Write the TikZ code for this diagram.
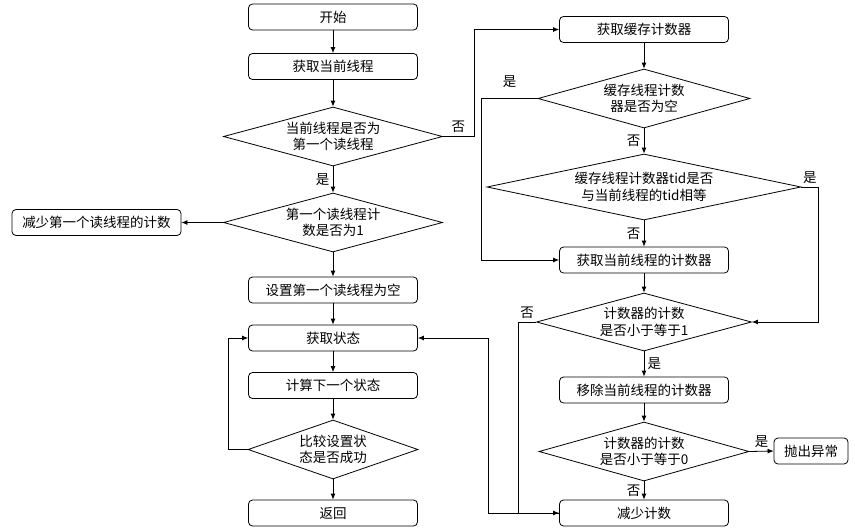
\documentclass[tikz,border=0pt]{standalone}
\usepackage{fontspec}
\setmainfont{Noto Sans CJK SC}
\usetikzlibrary{shapes.geometric}
\usetikzlibrary{arrows.meta}
\tikzset{every node/.style={font=\fontsize{13.5}{16.5}\selectfont},
         box/.style={draw,rectangle,rounded corners=4pt,minimum width=169pt,minimum height=26pt,inner sep=2pt},
         decision/.style n args={3}{draw,diamond,minimum width=#1pt,minimum height=#2pt,aspect=#3,inner sep=0pt,align=center},
         flow/.style={-{Latex[length=6pt,width=5pt]}},
         }

\begin{document}
\begin{tikzpicture}[x=1pt,y=-1pt,line width=0.8pt]
		\useasboundingbox (0,0) rectangle (855,531);
		\node[box] (start) at (333,17) {开始};
		\node[box] (getthread) at (333,66.5) {获取当前线程};
		\node[decision={219}{59}{3.71}] (isfirst) at (333,136.5) {当前线程是否为\\第一个读线程};
		\node[decision={219}{59}{3.71}] (firstcnt) at (333,222.5) {第一个读线程计\\数是否为1};
		\node[box] (decfirst) at (96.5,222.5) {减少第一个读线程的计数};
		\node[box] (setnull) at (333,290) {设置第一个读线程为空};
		\node[box] (getstate) at (333,338) {获取状态};
		\node[box] (nextstate) at (333,385.5) {计算下一个状态};
		\node[decision={170}{59}{2.88}] (cas) at (333,449.5) {比较设置状\\态是否成功};
		\node[box] (ret) at (333,513) {返回};
		\node[box] (getcache) at (644,29.5) {获取缓存计数器};
		\node[decision={212}{59}{3.59}] (cachenull) at (644,98.5) {缓存线程计数\\器是否为空};
		\node[decision={314}{66}{4.76}] (tideq) at (644,187) {缓存线程计数器tid是否\\与当前线程的tid相等};
		\node[box] (getcnt) at (644,260) {获取当前线程的计数器};
		\node[decision={215}{58}{3.71}] (le1) at (644,322) {计数器的计数\\是否小于等于1};
		\node[box] (remove) at (644,390) {移除当前线程的计数器};
		\node[decision={210}{59}{3.56}] (le0) at (644,451.5) {计数器的计数\\是否小于等于0};
		\node[box,minimum width=74pt] (throw) at (811,451) {抛出异常};
		\node[box] (dec) at (644,513) {减少计数};

		\draw[flow] (start) -- (getthread);
		\draw[flow] (getthread) -- (isfirst);
		\draw[flow] (isfirst) -- node[left]{是} (firstcnt);
		\draw[flow] (isfirst.east) -- node[above]{否} ++(31,0) |- (getcache.west);
		\draw[flow] (firstcnt.west) -- (decfirst.east);
		\draw[flow] (firstcnt) -- (setnull);
		\draw[flow] (setnull) -- (getstate);
		\draw[flow] (getstate) -- (nextstate);
		\draw[flow] (nextstate) -- (cas);
		\draw[flow] (cas) -- (ret);
		\draw[flow] (cas.west) -- ++(-19,0) |- (getstate.west);
		\draw[flow] (getcache) -- (cachenull);
		\draw[flow] (cachenull.west) -- node[above=7pt]{是} ++(-56,0) |- (getcnt.west);
		\draw[flow] (cachenull) -- node[left]{否} (tideq);
		\draw[flow] (tideq) -- node[left]{否} (getcnt);
		\draw[flow] (tideq.east) -- node[above]{是} ++(17,0) |- (le1.east);
		\draw[flow] (getcnt) -- (le1);
		\draw[flow] (le1) -- node[right]{是} (remove);
		\draw[flow] (le1.west) -- node[above]{否} ++(-18,0) |- (dec.west);
		\draw[flow] (remove) -- (le0);
		\draw[flow] (le0.east) -- node[above]{是} (throw.west);
		\draw[flow] (le0) -- node[left]{否} (dec);
		\draw[flow] (dec.west) -- ++(-71,0) |- (getstate.east);
\end{tikzpicture}
\end{document}
